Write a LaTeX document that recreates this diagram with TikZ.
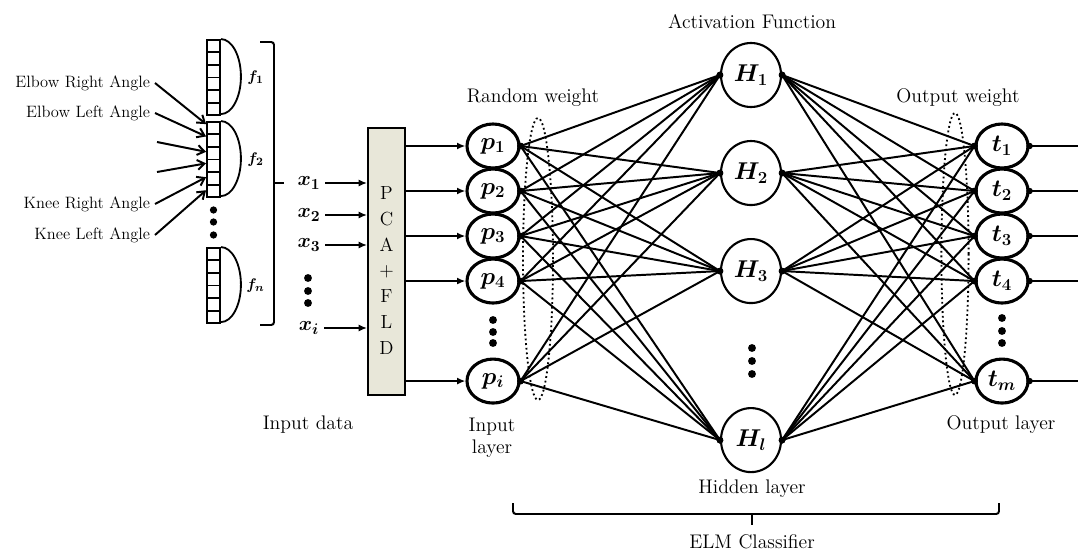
\documentclass[tikz,border=0pt]{standalone}
\usepackage{fontspec}
\usepackage{bm}
\usetikzlibrary{positioning,shapes.geometric,arrows.meta,calc}

\definecolor{pcafill}{HTML}{E8E7D9}

\begin{document}
\begin{tikzpicture}[x=0.025cm,y=0.025cm,node distance=1.125cm,on grid,
    font=\fontsize{14}{16}\selectfont,
    pnode/.style={ellipse,draw,line width=2.2pt,minimum width=1.3cm,minimum height=1.1cm,inner sep=0pt,font=\fontsize{17}{19}\selectfont},
    hnode/.style={ellipse,draw,line width=1.5pt,minimum width=1.5cm,minimum height=1.6cm,inner sep=0pt,font=\fontsize{16.5}{18}\selectfont},
    cellbar/.style={draw,line width=1.3pt,minimum width=0.325cm,minimum height=1.875cm,inner sep=0pt},
    pcabox/.style={draw,line width=1.3pt,fill=pcafill,minimum width=0.925cm,minimum height=6.675cm},
    pcatext/.style={align=center,font=\fontsize{13.5}{18.4}\selectfont},
    syn/.style={{Circle[length=4.5pt]}-{Circle[length=4.5pt]},shorten <=-2.25pt,shorten >=-2.25pt,line width=1.4pt},
    outl/.style={{Circle[length=4.5pt]}-,shorten <=-2.25pt,line width=1.4pt},
    feed/.style={-{Latex[length=6pt,width=5pt]},line width=1.3pt},
    inarrow/.style={-{Straight Barb[length=5pt,width=7pt]},line width=1.4pt},
    angle/.style={anchor=east,font=\fontsize{11.7}{13}\selectfont},
    flabel/.style={font=\fontsize{11}{13}\selectfont},
    xlabel/.style={font=\fontsize{15}{17}\selectfont}]
    \useasboundingbox (0,0) rectangle (1078,-552);

    % feature vectors
    \node[cellbar] (f_1) at (213.5,-77.5)  {};
    \node[cellbar] (f_2) at (213.5,-159.5) {};
    \node[cellbar] (f_n) at (213.5,-285.5) {};
    \foreach \c in {f_1,f_2,f_n} {
        \foreach \k in {1,...,5}
            \draw[line width=1.3pt] ($(\c.north west)!\k/6!(\c.south west)$) -- ($(\c.north east)!\k/6!(\c.south east)$);
        \draw[line width=1.3pt] (\c.north east) arc[start angle=90,end angle=-90,x radius=0.5cm,y radius=0.9375cm];
    }
    \node[flabel] (lf_1) [right=1.05cm of f_1] {$\bm{f_1}$};
    \node[flabel] (lf_2) [right=1.05cm of f_2] {$\bm{f_2}$};
    \node[flabel] (lf_n) [right=1.05cm of f_n] {$\bm{f_n}$};
    \foreach \y in {-210,-222,-235} \fill (213.5,\y) circle[radius=2.6pt];
    \draw[line width=1.4pt,rounded corners=2pt] (260,-42) -- (274,-42) -- (274,-325) -- (260,-325);
    \draw[line width=1.4pt] (274,-183) -- (284,-183);

    % joint angles
    \node[angle] (a_1) at (155,-83)  {Elbow Right Angle};
    \node[angle] (a_2) at (155,-113) {Elbow Left Angle};
    \coordinate  (a_3) at (157,-142);
    \coordinate  (a_4) at (157,-172);
    \node[angle] (a_5) at (155,-204) {Knee Right Angle};
    \node[angle] (a_6) at (155,-235) {Knee Left Angle};
    \draw[inarrow] (a_1.east) -- ($(f_2.north west)!0.04!(f_2.south west)$);
    \draw[inarrow] (a_2.east) -- ($(f_2.north west)!0.2!(f_2.south west)$);
    \draw[inarrow] (a_3) -- ($(f_2.north west)!0.4!(f_2.south west)$);
    \draw[inarrow] (a_4) -- ($(f_2.north west)!0.55!(f_2.south west)$);
    \draw[inarrow] (a_5.east) -- ($(f_2.north west)!0.73!(f_2.south west)$);
    \draw[inarrow] (a_6.east) -- ($(f_2.north west)!0.9!(f_2.south west)$);

    % input data and reduction
    \node[pcabox] (pca) at (386.5,-261.5) {};
    \node[pcatext] (pcaword) at ($(pca.center)+(0,-9)$) {P\\C\\A\\+\\F\\L\\D};
    \node[xlabel] (x_1) at (309,-183) {$\bm{x_1}$};
    \node[xlabel] (x_2) at (309,-215) {$\bm{x_2}$};
    \node[xlabel] (x_3) at (309,-245) {$\bm{x_3}$};
    \node[xlabel] (x_i) at (309,-328) {$\bm{x_i}$};
    \foreach \y in {-278,-291,-303} \fill (308,\y) circle[radius=2.8pt];
    \path[feed] (x_1.east) edge (x_1.east -| pca.west)
                (x_2.east) edge (x_2.east -| pca.west)
                (x_3.east) edge (x_3.east -| pca.west)
                (x_i.east) edge (x_i.east -| pca.west);
    \node (indata) at (308,-425) {Input data};

    % input layer
    \node[pnode] (p_1) at (493,-146)     {$\bm{p_1}$};
    \node[pnode] (p_2) [below=of p_1]    {$\bm{p_2}$};
    \node[pnode] (p_3) [below=of p_2]    {$\bm{p_3}$};
    \node[pnode] (p_4) [below=of p_3]    {$\bm{p_4}$};
    \node[pnode] (p_i) [below=2.5cm of p_4] {$\bm{p_i}$};
    \foreach \y in {-320,-332,-343} \fill (493,\y) circle[radius=2.8pt];
    \path[feed] (pca.east |- p_1) edge (p_1)
                (pca.east |- p_2) edge (p_2)
                (pca.east |- p_3) edge (p_3)
                (pca.east |- p_4) edge (p_4)
                (pca.east |- p_i) edge (p_i);
    \node[align=center] (inlayer) at (492,-438) {Input\\layer};

    % hidden layer
    \node[hnode] (H_1) at (751,-75)          {$\bm{H_1}$};
    \node[hnode] (H_2) [below=2.45cm of H_1] {$\bm{H_2}$};
    \node[hnode] (H_3) [below=2.45cm of H_2] {$\bm{H_3}$};
    \node[hnode] (H_l) [below=4.225cm of H_3] {$\bm{H_l}$};
    \foreach \y in {-348,-361,-374} \fill (752,\y) circle[radius=2.8pt];
    \node (actfn)  at (752,-22)  {Activation Function};
    \node (hidden) at (752,-489) {Hidden layer};

    % output layer
    \node[pnode] (t_1) at (1002,-146)     {$\bm{t_1}$};
    \node[pnode] (t_2) [below=of t_1]     {$\bm{t_2}$};
    \node[pnode] (t_3) [below=of t_2]     {$\bm{t_3}$};
    \node[pnode] (t_4) [below=of t_3]     {$\bm{t_4}$};
    \node[pnode] (t_m) [below=2.5cm of t_4] {$\bm{t_m}$};
    \foreach \y in {-318,-331,-343} \fill (1002,\y) circle[radius=2.8pt];
    \node (outlayer) at (1001,-425) {Output layer};
    \coordinate (rim) at (1078,0);
    \path[outl] (t_1.east) edge (t_1.east -| rim)
                (t_2.east) edge (t_2.east -| rim)
                (t_3.east) edge (t_3.east -| rim)
                (t_4.east) edge (t_4.east -| rim)
                (t_m.east) edge (t_m.east -| rim);

    % weights
    \node (rweight) at (533,-98) {Random weight};
    \node (oweight) at (958,-98) {Output weight};
    \draw[dotted,line width=1.3pt] (538,-259) ellipse[x radius=0.375cm,y radius=3.525cm];
    \draw[dotted,line width=1.3pt] (955,-254) ellipse[x radius=0.34cm,y radius=3.525cm];

    \path[syn] (p_1.east) edge (H_1.west) edge (H_2.west) edge (H_3.west) edge (H_l.west)
               (p_2.east) edge (H_1.west) edge (H_2.west) edge (H_3.west) edge (H_l.west)
               (p_3.east) edge (H_1.west) edge (H_2.west) edge (H_3.west) edge (H_l.west)
               (p_4.east) edge (H_1.west) edge (H_2.west) edge (H_3.west) edge (H_l.west)
               (p_i.east) edge (H_1.west) edge (H_2.west) edge (H_3.west) edge (H_l.west);
    \path[syn] (H_1.east) edge (t_1.west) edge (t_2.west) edge (t_3.west) edge (t_4.west) edge (t_m.west)
               (H_2.east) edge (t_1.west) edge (t_2.west) edge (t_3.west) edge (t_4.west) edge (t_m.west)
               (H_3.east) edge (t_1.west) edge (t_2.west) edge (t_3.west) edge (t_4.west) edge (t_m.west)
               (H_l.east) edge (t_1.west) edge (t_2.west) edge (t_3.west) edge (t_4.west) edge (t_m.west);

    % classifier brace
    \draw[line width=1.4pt,rounded corners=2pt] (513,-503) -- (513,-514) -- (999,-514) -- (999,-503);
    \draw[line width=1.4pt] (752,-514) -- (752,-525);
    \node (elm) at (752,-542) {ELM Classifier};
\end{tikzpicture}
\end{document}
